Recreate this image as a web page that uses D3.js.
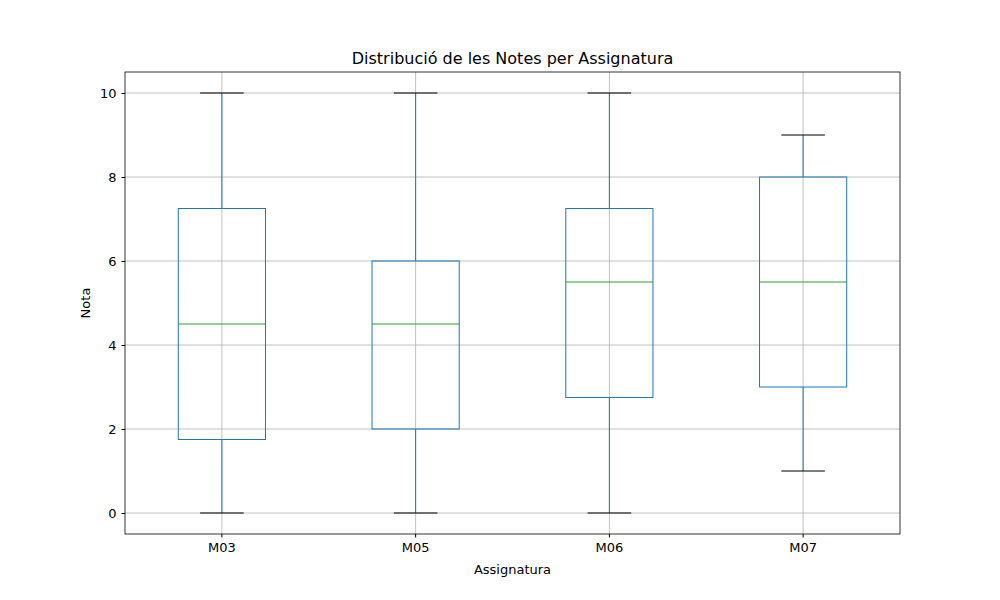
<!DOCTYPE html>
<html><head><meta charset="utf-8">
<script src="https://cdn.jsdelivr.net/npm/d3@7"></script>
<style>body{margin:0;background:#fff}text{font-family:"DejaVu Sans",sans-serif}</style>
</head><body><svg id="c" width="1000" height="600"></svg>
<script>
var subjects = ['M03', 'M05', 'M06', 'M07'];
var mins = [0, 0, 0, 1];
var q1s = [1.75, 2, 2.75, 3];
var medians = [4.5, 4.5, 5.5, 5.5];
var q3s = [7.25, 6, 7.25, 8];
var maxs = [10, 10, 10, 9];
var yTicks = [0, 2, 4, 6, 8, 10];

var m = {left: 125, right: 900, top: 72, bottom: 534};
var svg = d3.select('#c');
var x = d3.scaleBand().domain(subjects).range([m.left, m.right]);
var y = d3.scaleLinear().domain([-0.5, 10.5]).range([m.bottom, m.top]);
var bw = x.bandwidth() * 0.45;

// grid
svg.append('g').selectAll('line').data(yTicks).join('line')
    .attr('x1', m.left).attr('x2', m.right)
    .attr('y1', function(d) { return y(d); }).attr('y2', function(d) { return y(d); })
    .attr('stroke', '#b0b0b0').attr('stroke-width', 0.8);
svg.append('g').selectAll('line').data(subjects).join('line')
    .attr('x1', function(d) { return x(d) + x.bandwidth() / 2; })
    .attr('x2', function(d) { return x(d) + x.bandwidth() / 2; })
    .attr('y1', m.top).attr('y2', m.bottom)
    .attr('stroke', '#b0b0b0').attr('stroke-width', 0.8);

var g = svg.append('g').selectAll('g').data(subjects).join('g')
    .attr('transform', function(d) { return 'translate(' + (x(d) + x.bandwidth() / 2) + ',0)'; });

// whiskers
g.append('line').attr('y1', function(d, i) { return y(q3s[i]); }).attr('y2', function(d, i) { return y(maxs[i]); })
    .attr('stroke', '#1f77b4');
g.append('line').attr('y1', function(d, i) { return y(q1s[i]); }).attr('y2', function(d, i) { return y(mins[i]); })
    .attr('stroke', '#1f77b4');
// caps
[maxs, mins].forEach(function(arr) {
    g.append('line').attr('x1', -bw / 4).attr('x2', bw / 4)
        .attr('y1', function(d, i) { return y(arr[i]); }).attr('y2', function(d, i) { return y(arr[i]); })
        .attr('stroke', '#000');
});
// boxes
g.append('rect').attr('x', -bw / 2).attr('width', bw)
    .attr('y', function(d, i) { return y(q3s[i]); })
    .attr('height', function(d, i) { return y(q1s[i]) - y(q3s[i]); })
    .attr('fill', 'none').attr('stroke', '#1f77b4');
g.append('line').attr('x1', -bw / 2).attr('x2', bw / 2)
    .attr('y1', function(d, i) { return y(medians[i]); }).attr('y2', function(d, i) { return y(medians[i]); })
    .attr('stroke', '#2ca02c');

// axes
var ya = svg.append('g').attr('transform', 'translate(' + m.left + ',0)')
    .call(d3.axisLeft(y).tickValues(yTicks).tickSize(3.5).tickPadding(5));
var xa = svg.append('g').attr('transform', 'translate(0,' + m.bottom + ')')
    .call(d3.axisBottom(x).tickSize(3.5).tickPadding(5));
[ya, xa].forEach(function(a) {
    a.select('.domain').remove();
    a.selectAll('text').attr('font-size', 13).attr('fill', '#000').style('font-family', 'DejaVu Sans');
    a.selectAll('line').attr('stroke', '#000');
});
svg.append('rect').attr('x', m.left).attr('y', m.top).attr('width', m.right - m.left)
    .attr('height', m.bottom - m.top).attr('fill', 'none').attr('stroke', '#000').attr('stroke-width', 0.8);

svg.append('text').attr('x', (m.left + m.right) / 2).attr('y', 64).attr('text-anchor', 'middle')
    .attr('font-size', 16).text('Distribució de les Notes per Assignatura');
svg.append('text').attr('x', (m.left + m.right) / 2).attr('y', 574).attr('text-anchor', 'middle')
    .attr('font-size', 13).text('Assignatura');
svg.append('text').attr('transform', 'translate(90,' + (m.top + m.bottom) / 2 + ') rotate(-90)')
    .attr('text-anchor', 'middle').attr('font-size', 13).text('Nota');
</script></body></html>
